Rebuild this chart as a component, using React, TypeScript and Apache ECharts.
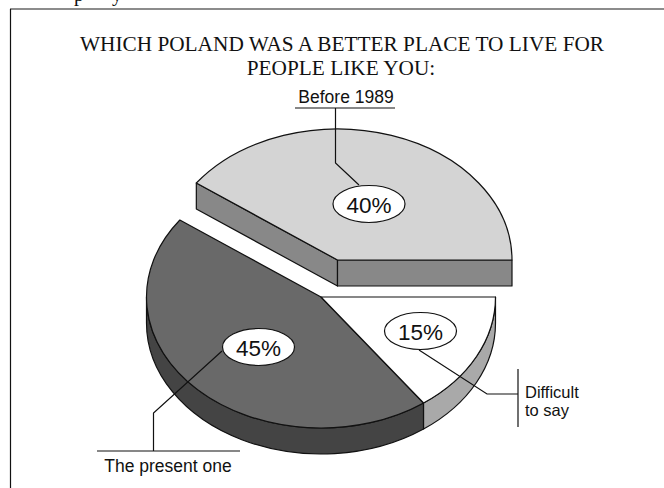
import React, { useEffect, useRef } from "react";
import * as echarts from "echarts";

// Survey answers, in drawing order
const answers = ["Before 1989", "The present one", "Difficult to say"];
const shares = [40, 45, 15];

const titleLines = ["WHICH POLAND WAS A BETTER PLACE TO LIVE FOR", "PEOPLE LIKE YOU:"];

const topColors = ["#d4d4d4", "#696969", "#ffffff"];
const wallColors = ["#888888", "#444444", "#a9a9a9"];

// Tilted-disc geometry
const CX = 321;
const CY = 297;
const RX = 174.5;
const RY = 131;
const DEPTH = 26;
const explode = [[16.5, -37], [0, 0], [0, 0]];

const SANS = '"Liberation Sans", Arial, sans-serif';
const SERIF = '"Liberation Serif", "Times New Roman", serif';
const INK = "#111111";

// Percent badges and their leader lines, one per slice
const badges = [
  { x: 369, y: 204, leader: [[295, 108], [395, 108], null, [335.5, 108], [335.5, 163], [359, 185]] },
  { x: 258.5, y: 347, leader: [[97, 451], [240, 451], null, [153.5, 451], [153.5, 413], [222, 351]] },
  { x: 420.5, y: 331, leader: [[518, 369], [518, 427], null, [518, 394], [487, 394], [419, 350]] },
];
const captions = [
  [{ text: "Before 1989", x: 346, y: 97, align: "center", size: 17.5 }],
  [{ text: "The present one", x: 168, y: 466, align: "center", size: 17.5 }],
  [
    { text: "Difficult", x: 525, y: 392, align: "left", size: 16.5 },
    { text: "to say", x: 525, y: 410, align: "left", size: 16.5 },
  ],
];

const rad = (deg: number) => (deg * Math.PI) / 180;
const rim = (ox: number, oy: number, deg: number): [number, number] => [
  ox + RX * Math.cos(rad(deg)),
  oy - RY * Math.sin(rad(deg)),
];
const total = shares.reduce((a, b) => a + b, 0);

function renderSlice(params: any, api: any) {
  const i = params.dataIndex;
  const before = shares.slice(0, i).reduce((a, b) => a + b, 0);
  const a0 = (before / total) * 360;
  const a1 = a0 + (api.value(0) / total) * 360;
  const [dx, dy] = explode[i];
  const ox = CX + dx;
  const oy = CY + dy;
  const children: any[] = [];
  const edge = { stroke: INK, lineWidth: 1.2, lineJoin: "round" };

  // Cut faces are only visible on the slice pulled away from the disc
  if (dx !== 0 || dy !== 0) {
    for (const a of [a1, a0]) {
      const [px, py] = rim(ox, oy, a);
      children.push({
        type: "polygon",
        shape: { points: [[ox, oy], [px, py], [px, py + DEPTH], [ox, oy + DEPTH]] },
        style: { fill: wallColors[i], ...edge },
      });
    }
  }

  // Outer wall: the part of the rim facing the viewer
  const w0 = Math.max(a0, 180);
  const w1 = Math.min(a1, 360);
  if (w1 > w0) {
    const [sx, sy] = rim(ox, oy, w0);
    const [ex, ey] = rim(ox, oy, w1);
    children.push({
      type: "path",
      shape: {
        pathData:
          `M${sx} ${sy}A${RX} ${RY} 0 0 0 ${ex} ${ey}` +
          `L${ex} ${ey + DEPTH}A${RX} ${RY} 0 0 1 ${sx} ${sy + DEPTH}Z`,
      },
      style: { fill: wallColors[i], ...edge },
    });
  }

  // Top face
  const [tx0, ty0] = rim(ox, oy, a0);
  const [tx1, ty1] = rim(ox, oy, a1);
  const large = a1 - a0 > 180 ? 1 : 0;
  children.push({
    type: "path",
    shape: { pathData: `M${ox} ${oy}L${tx0} ${ty0}A${RX} ${RY} 0 ${large} 0 ${tx1} ${ty1}Z` },
    style: { fill: topColors[i], ...edge },
  });

  // Leader line runs, split on null
  let run: number[][] = [];
  const flush = () => {
    if (run.length > 1) {
      children.push({
        type: "polyline",
        shape: { points: run },
        style: { fill: "none", stroke: INK, lineWidth: 1.2 },
      });
    }
    run = [];
  };
  for (const p of badges[i].leader) {
    if (p) run.push(p);
    else flush();
  }
  flush();

  // Percent badge
  children.push({
    type: "ellipse",
    shape: { cx: badges[i].x, cy: badges[i].y, rx: 36, ry: 18.5 },
    style: { fill: "#ffffff", stroke: INK, lineWidth: 1.2 },
  });
  children.push({
    type: "text",
    style: {
      text: `${api.value(0)}%`,
      x: badges[i].x,
      y: badges[i].y + 1,
      align: "center",
      verticalAlign: "middle",
      font: `22.5px ${SANS}`,
      fill: INK,
    },
  });
  for (const c of captions[i]) {
    children.push({
      type: "text",
      style: {
        text: c.text,
        x: c.x,
        y: c.y,
        align: c.align,
        verticalAlign: "middle",
        font: `${c.size}px ${SANS}`,
        fill: INK,
      },
    });
  }
  return { type: "group", children };
}

export default function App() {
  const ref = useRef<HTMLDivElement>(null);
  useEffect(() => {
    document.body.style.margin = "0";
    const chart = echarts.init(ref.current!, undefined, { renderer: "svg" });
    chart.setOption({
      animation: false,
      backgroundColor: "#ffffff",
      graphic: [
        { type: "line", shape: { x1: 10, y1: 9, x2: 664, y2: 9 }, style: { stroke: "#666666", lineWidth: 1.5 } },
        { type: "line", shape: { x1: 10.5, y1: 9, x2: 10.5, y2: 488 }, style: { stroke: "#111111", lineWidth: 1.2 } },
        // Running text above the frame, cut by the page edge
        { type: "text", style: { text: "p", x: 74, y: -16, font: `20px ${SERIF}`, fill: INK } },
        { type: "text", style: { text: "y", x: 112, y: -16, font: `20px ${SERIF}`, fill: INK } },
        {
          type: "text",
          style: {
            text: titleLines[0],
            x: 342,
            y: 44,
            font: `21.3px ${SERIF}`,
            fill: INK,
            align: "center",
            verticalAlign: "middle",
          },
        },
        {
          type: "text",
          style: {
            text: titleLines[1],
            x: 341,
            y: 68,
            font: `21.3px ${SERIF}`,
            fill: INK,
            align: "center",
            verticalAlign: "middle",
          },
        },
      ],
      series: [
        {
          type: "custom",
          coordinateSystem: "none",
          renderItem: renderSlice,
          data: shares.map((v, i) => ({ name: answers[i], value: [v] })),
        },
      ],
    });
    return () => chart.dispose();
  }, []);
  return <div ref={ref} style={{ width: 664, height: 488 }} />;
}
